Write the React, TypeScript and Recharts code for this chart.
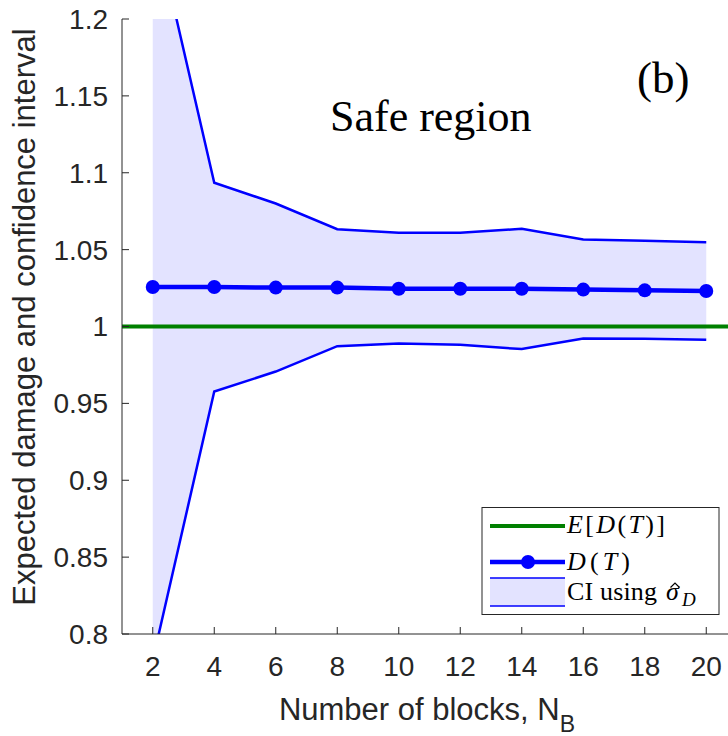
import React from "react";
import {
  ComposedChart,
  XAxis,
  YAxis,
  Line,
  Area,
  ReferenceLine,
} from "recharts";

// ---- data ----
const blocks = [2, 4, 6, 8, 10, 12, 14, 16, 18, 20];
const damageD = [1.0257, 1.0257, 1.0253, 1.0253, 1.0246, 1.0246, 1.0246, 1.024, 1.0235, 1.0231];
const ciUpper = [1.267, 1.0935, 1.08, 1.0633, 1.0609, 1.0609, 1.0636, 1.0566, 1.0557, 1.0548];
const ciLower = [0.783, 0.9577, 0.9707, 0.9872, 0.989, 0.9881, 0.9853, 0.9922, 0.992, 0.9914];
const expectedDamage = 1;
const xTicks = [2, 4, 6, 8, 10, 12, 14, 16, 18, 20];
const yTicks = [0.8, 0.85, 0.9, 0.95, 1, 1.05, 1.1, 1.15, 1.2];

const data = blocks.map((x, i) => ({
  x,
  d: damageD[i],
  upper: ciUpper[i],
  lower: ciLower[i],
}));

const AXIS = "#262626";
const SANS = "'Liberation Sans', Arial, Helvetica, sans-serif";
const SERIF = "'Liberation Serif', 'Times New Roman', serif";
const BLUE = "#0000ff";
const GREEN = "#008000";

const fmt = (v: number) => String(Number(v.toFixed(2)));

export default function App() {
  return (
    <div
      style={{
        position: "fixed",
        left: 0,
        top: 0,
        width: 728,
        height: 736,
        overflow: "hidden",
        background: "#ffffff",
      }}
    >
      <ComposedChart
        width={760}
        height={736}
        data={data}
        margin={{ top: 19, right: 23, left: 0, bottom: 0 }}
      >
        <XAxis
          dataKey="x"
          type="number"
          domain={[1, 21]}
          ticks={xTicks}
          height={102}
          tickSize={-7}
          tickMargin={29}
          stroke={AXIS}
          tick={{ fill: AXIS, fontSize: 28, fontFamily: SANS }}
          axisLine={{ stroke: AXIS, strokeWidth: 1 }}
          tickLine={{ stroke: AXIS }}
        />
        <XAxis
          xAxisId="top"
          dataKey="x"
          type="number"
          orientation="top"
          domain={[1, 21]}
          ticks={xTicks}
          height={0}
          tickSize={-7}
          tickFormatter={() => ""}
          stroke={AXIS}
          axisLine={{ stroke: AXIS, strokeWidth: 1 }}
          tickLine={{ stroke: AXIS }}
        />
        <YAxis
          type="number"
          domain={[0.8, 1.2]}
          ticks={yTicks}
          allowDataOverflow
          width={122}
          tickSize={-7}
          tickMargin={21}
          stroke={AXIS}
          tickFormatter={fmt}
          tick={{ fill: AXIS, fontSize: 28, fontFamily: SANS }}
          axisLine={{ stroke: AXIS, strokeWidth: 1 }}
          tickLine={{ stroke: AXIS }}
        />
        <ReferenceLine y={expectedDamage} stroke={GREEN} strokeWidth={4} />
        <Area
          type="linear"
          dataKey={(d: any) => [d.lower, d.upper]}
          stroke="none"
          fill={BLUE}
          fillOpacity={0.11}
          isAnimationActive={false}
          activeDot={false}
        />
        <Line
          type="linear"
          dataKey="upper"
          stroke={BLUE}
          strokeWidth={2.5}
          dot={false}
          activeDot={false}
          isAnimationActive={false}
        />
        <Line
          type="linear"
          dataKey="lower"
          stroke={BLUE}
          strokeWidth={2.5}
          dot={false}
          activeDot={false}
          isAnimationActive={false}
        />
        <Line
          type="linear"
          dataKey="d"
          stroke={BLUE}
          strokeWidth={4.5}
          dot={{ r: 7, fill: BLUE, stroke: BLUE, strokeWidth: 0 }}
          activeDot={false}
          isAnimationActive={false}
        />
      </ComposedChart>
      <svg
        width={728}
        height={736}
        style={{ position: "absolute", left: 0, top: 0, pointerEvents: "none" }}
      >
        {/* axis labels */}
        <text
          transform="translate(35,317) rotate(-90)"
          textAnchor="middle"
          fontSize={31}
          fontFamily={SANS}
          fill={AXIS}
        >
          Expected damage and confidence interval
        </text>
        <text x={427} y={720} textAnchor="middle" fontSize={31} fontFamily={SANS} fill={AXIS}>
          Number of blocks, N
          <tspan fontSize={23} dy={12}>
            B
          </tspan>
        </text>
        {/* annotations */}
        <text x={330} y={131} fontSize={44} fontFamily={SERIF} fill="#000">
          Safe region
        </text>
        <text x={637} y={93} fontSize={45} fontFamily={SERIF} fill="#000">
          (b)
        </text>
        {/* legend */}
        <rect x={482} y={507.5} width={237} height={107} fill="#fff" stroke={AXIS} strokeWidth={1} />
        <line x1={490} x2={565} y1={526} y2={526} stroke={GREEN} strokeWidth={4} />
        <line x1={490} x2={565} y1={562} y2={562} stroke={BLUE} strokeWidth={4.5} />
        <circle cx={528} cy={562} r={7} fill={BLUE} />
        <rect x={490} y={578} width={75} height={28} fill={BLUE} fillOpacity={0.11} />
        <line x1={490} x2={565} y1={578} y2={578} stroke={BLUE} strokeWidth={1.5} />
        <line x1={490} x2={565} y1={606} y2={606} stroke={BLUE} strokeWidth={1.5} />
        <text x={567} y={533} fontSize={26} fontFamily={SERIF} fill="#000" textLength={98} lengthAdjust="spacing">
          <tspan fontStyle="italic">E</tspan>[<tspan fontStyle="italic">D</tspan>(
          <tspan fontStyle="italic">T</tspan>)]
        </text>
        <text x={567} y={570} fontSize={26} fontFamily={SERIF} fill="#000" textLength={63} lengthAdjust="spacing">
          <tspan fontStyle="italic">D</tspan>(<tspan fontStyle="italic">T</tspan>)
        </text>
        <text x={567} y={600} fontSize={26} fontFamily={SERIF} fill="#000" textLength={90} lengthAdjust="spacing">
          CI using
        </text>
        <text x={666} y={600} fontSize={26} fontFamily={SERIF} fontStyle="italic" fill="#000">
          {"\u03C3"}
        </text>
        <path d="M670.5,587.5 L675,583 L679.5,587.5" fill="none" stroke="#000" strokeWidth={1.2} />
        <text x={682} y={606} fontSize={19} fontFamily={SERIF} fontStyle="italic" fill="#000">
          D
        </text>
      </svg>
    </div>
  );
}
